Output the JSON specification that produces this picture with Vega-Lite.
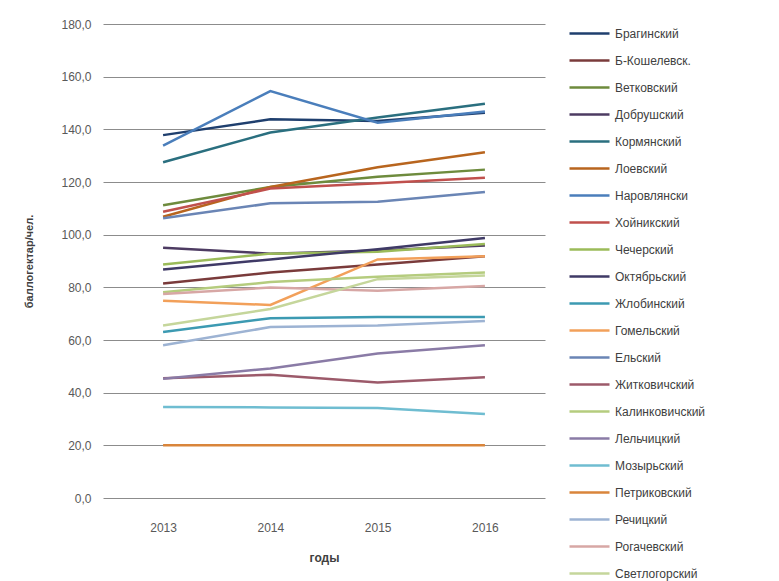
{
  "$schema": "https://vega.github.io/schema/vega-lite/v6.json",
  "autosize": {"type": "none"},
  "width": 442,
  "height": 474,
  "padding": {"left": 103, "top": 24, "right": 234, "bottom": 83},
  "background": "white",
  "config": {
    "view": {"stroke": null},
    "font": "Liberation Sans"
  },
  "data": {
    "values": [
      {"d": "Брагинский", "year": "2013", "v": 137.8}, {"d": "Брагинский", "year": "2014", "v": 143.8}, {"d": "Брагинский", "year": "2015", "v": 143.2}, {"d": "Брагинский", "year": "2016", "v": 146.3},
      {"d": "Б-Кошелевск.", "year": "2013", "v": 81.5}, {"d": "Б-Кошелевск.", "year": "2014", "v": 85.6}, {"d": "Б-Кошелевск.", "year": "2015", "v": 88.7}, {"d": "Б-Кошелевск.", "year": "2016", "v": 91.8},
      {"d": "Ветковский", "year": "2013", "v": 111.2}, {"d": "Ветковский", "year": "2014", "v": 118.1}, {"d": "Ветковский", "year": "2015", "v": 122.0}, {"d": "Ветковский", "year": "2016", "v": 124.7},
      {"d": "Добрушский", "year": "2013", "v": 95.0}, {"d": "Добрушский", "year": "2014", "v": 92.8}, {"d": "Добрушский", "year": "2015", "v": 94.0}, {"d": "Добрушский", "year": "2016", "v": 95.9},
      {"d": "Кормянский", "year": "2013", "v": 127.5}, {"d": "Кормянский", "year": "2014", "v": 138.8}, {"d": "Кормянский", "year": "2015", "v": 144.5}, {"d": "Кормянский", "year": "2016", "v": 149.7},
      {"d": "Лоевский", "year": "2013", "v": 106.8}, {"d": "Лоевский", "year": "2014", "v": 118.1}, {"d": "Лоевский", "year": "2015", "v": 125.6}, {"d": "Лоевский", "year": "2016", "v": 131.3},
      {"d": "Наровлянски", "year": "2013", "v": 133.8}, {"d": "Наровлянски", "year": "2014", "v": 154.5}, {"d": "Наровлянски", "year": "2015", "v": 142.5}, {"d": "Наровлянски", "year": "2016", "v": 146.8},
      {"d": "Хойникский", "year": "2013", "v": 108.7}, {"d": "Хойникский", "year": "2014", "v": 117.5}, {"d": "Хойникский", "year": "2015", "v": 119.5}, {"d": "Хойникский", "year": "2016", "v": 121.6},
      {"d": "Чечерский", "year": "2013", "v": 88.7}, {"d": "Чечерский", "year": "2014", "v": 92.8}, {"d": "Чечерский", "year": "2015", "v": 93.5}, {"d": "Чечерский", "year": "2016", "v": 96.5},
      {"d": "Октябрьский", "year": "2013", "v": 86.8}, {"d": "Октябрьский", "year": "2014", "v": 90.6}, {"d": "Октябрьский", "year": "2015", "v": 94.5}, {"d": "Октябрьский", "year": "2016", "v": 98.7},
      {"d": "Жлобинский", "year": "2013", "v": 63.0}, {"d": "Жлобинский", "year": "2014", "v": 68.3}, {"d": "Жлобинский", "year": "2015", "v": 68.7}, {"d": "Жлобинский", "year": "2016", "v": 68.7},
      {"d": "Гомельский", "year": "2013", "v": 74.9}, {"d": "Гомельский", "year": "2014", "v": 73.3}, {"d": "Гомельский", "year": "2015", "v": 90.6}, {"d": "Гомельский", "year": "2016", "v": 91.8},
      {"d": "Ельский", "year": "2013", "v": 106.2}, {"d": "Ельский", "year": "2014", "v": 111.9}, {"d": "Ельский", "year": "2015", "v": 112.5}, {"d": "Ельский", "year": "2016", "v": 116.2},
      {"d": "Житковичский", "year": "2013", "v": 45.5}, {"d": "Житковичский", "year": "2014", "v": 46.8}, {"d": "Житковичский", "year": "2015", "v": 43.9}, {"d": "Житковичский", "year": "2016", "v": 45.9},
      {"d": "Калинковичский", "year": "2013", "v": 78.1}, {"d": "Калинковичский", "year": "2014", "v": 82.0}, {"d": "Калинковичский", "year": "2015", "v": 84.0}, {"d": "Калинковичский", "year": "2016", "v": 85.6},
      {"d": "Лельчицкий", "year": "2013", "v": 45.3}, {"d": "Лельчицкий", "year": "2014", "v": 49.2}, {"d": "Лельчицкий", "year": "2015", "v": 54.9}, {"d": "Лельчицкий", "year": "2016", "v": 58.0},
      {"d": "Мозырьский", "year": "2013", "v": 34.6}, {"d": "Мозырьский", "year": "2014", "v": 34.4}, {"d": "Мозырьский", "year": "2015", "v": 34.2}, {"d": "Мозырьский", "year": "2016", "v": 31.9},
      {"d": "Петриковский", "year": "2013", "v": 20.0}, {"d": "Петриковский", "year": "2014", "v": 20.0}, {"d": "Петриковский", "year": "2015", "v": 20.0}, {"d": "Петриковский", "year": "2016", "v": 20.0},
      {"d": "Речицкий", "year": "2013", "v": 58.0}, {"d": "Речицкий", "year": "2014", "v": 64.9}, {"d": "Речицкий", "year": "2015", "v": 65.5}, {"d": "Речицкий", "year": "2016", "v": 67.2},
      {"d": "Рогачевский", "year": "2013", "v": 77.5}, {"d": "Рогачевский", "year": "2014", "v": 79.9}, {"d": "Рогачевский", "year": "2015", "v": 78.7}, {"d": "Рогачевский", "year": "2016", "v": 80.5},
      {"d": "Светлогорский", "year": "2013", "v": 65.5}, {"d": "Светлогорский", "year": "2014", "v": 71.8}, {"d": "Светлогорский", "year": "2015", "v": 83.1}, {"d": "Светлогорский", "year": "2016", "v": 84.5}
    ]
  },
  "mark": {"type": "line", "strokeWidth": 2.5},
  "encoding": {
    "x": {
      "field": "year", "type": "ordinal",
      "scale": {"type": "point", "padding": 0.56},
      "axis": {
        "title": "годы", "labelAngle": 0, "grid": false, "domain": false, "ticks": false,
        "labelPadding": 24, "labelFontSize": 12, "labelColor": "#595959",
        "titleFontSize": 12, "titleFontWeight": "bold", "titleColor": "#404040", "titlePadding": 19
      }
    },
    "y": {
      "field": "v", "type": "quantitative",
      "scale": {"domain": [0, 180], "nice": false, "zero": true},
      "axis": {
        "title": "баллогектар/чел.", "values": [0, 20, 40, 60, 80, 100, 120, 140, 160, 180],
        "labelExpr": "replace(format(datum.value, '.1f'), '.', ',')",
        "grid": true, "gridColor": "#8c8c8c", "gridWidth": 1, "domain": false, "ticks": false,
        "labelPadding": 12, "labelFontSize": 12, "labelColor": "#595959",
        "titleFontSize": 11, "titleFontWeight": "bold", "titleColor": "#404040", "titlePadding": 26
      }
    },
    "color": {
      "field": "d", "type": "nominal",
      "scale": {
        "domain": ["Брагинский", "Б-Кошелевск.", "Ветковский", "Добрушский", "Кормянский", "Лоевский", "Наровлянски", "Хойникский", "Чечерский", "Октябрьский", "Жлобинский", "Гомельский", "Ельский", "Житковичский", "Калинковичский", "Лельчицкий", "Мозырьский", "Петриковский", "Речицкий", "Рогачевский", "Светлогорский"],
        "range": ["#1f3f6e", "#7a3b3b", "#6e8b3d", "#4d3b62", "#2a6f7f", "#b8651e", "#4a7ebb", "#c0504d", "#9bbb59", "#3f3a66", "#3c9ab2", "#f2a05a", "#6a85b5", "#9c5a6a", "#b5cc7e", "#8a7ba6", "#6fbdd1", "#d9853b", "#9db3d3", "#d7a7a5", "#c5d69b"]
      },
      "legend": {
        "title": null, "orient": "none", "legendX": 465, "legendY": -2,
        "symbolType": "M-1,0H3", "symbolSize": 400, "symbolStrokeWidth": 2.5,
        "rowPadding": 9, "labelFontSize": 12, "labelColor": "#404040", "labelOffset": 24, "labelLimit": 200
      }
    }
  }
}
